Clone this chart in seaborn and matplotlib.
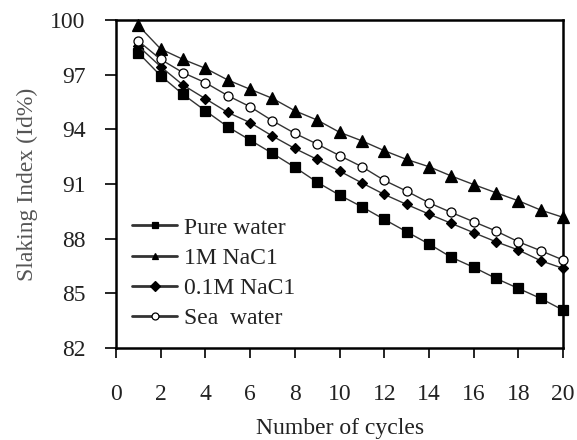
import numpy as np
import pandas as pd
import matplotlib
matplotlib.use("Agg")
import matplotlib.pyplot as plt
import seaborn as sns

# Slaking durability over repeated wetting/drying cycles
cycles = list(range(1, 21))
pure_water = [98.2, 96.94, 95.92, 95.02, 94.14, 93.41, 92.68, 91.92, 91.1, 90.39,
              89.75, 89.06, 88.38, 87.71, 86.98, 86.43, 85.82, 85.27, 84.72, 84.08]
nacl_1m = [99.7, 98.41, 97.84, 97.35, 96.71, 96.2, 95.7, 95.02, 94.51, 93.84,
           93.37, 92.83, 92.35, 91.95, 91.44, 90.97, 90.52, 90.08, 89.57, 89.17]
nacl_01m = [98.57, 97.44, 96.43, 95.68, 94.93, 94.37, 93.63, 92.95, 92.35, 91.71,
            91.06, 90.43, 89.88, 89.35, 88.84, 88.33, 87.83, 87.38, 86.79, 86.37]
sea_water = [98.85, 97.84, 97.11, 96.56, 95.85, 95.24, 94.47, 93.78, 93.19, 92.56,
             91.95, 91.2, 90.61, 89.97, 89.44, 88.93, 88.42, 87.83, 87.34, 86.83]

series_names = ["Pure water", "1M NaC1", "0.1M NaC1", "Sea  water"]
x_ticks = list(range(0, 21, 2))
y_ticks = [82, 85, 88, 91, 94, 97, 100]

df = pd.DataFrame({
    "cycle": cycles * 4,
    "index": pure_water + nacl_1m + nacl_01m + sea_water,
    "fluid": sum([[n] * len(cycles) for n in series_names], []),
})

sns.set_style("ticks")
plt.rcParams["font.family"] = ["Liberation Serif", "DejaVu Serif"]

fig = plt.figure(figsize=(5.77, 4.40), dpi=100)
ax = fig.add_axes([0.201, 0.209, 0.775, 0.7455])

styles = {
    "Pure water": dict(marker="s", markersize=7.5, markerfacecolor="black"),
    "1M NaC1": dict(marker="^", markersize=8.5, markerfacecolor="black"),
    "0.1M NaC1": dict(marker="D", markersize=5.5, markerfacecolor="black"),
    "Sea  water": dict(marker="o", markersize=6.5, markerfacecolor="white"),
}

for name in series_names:
    sub = df[df["fluid"] == name]
    sns.lineplot(data=sub, x="cycle", y="index", ax=ax, color="#333333",
                 linewidth=1.0, markeredgecolor="black", markeredgewidth=0.9,
                 label=name, clip_on=False, zorder=3, **styles[name])

ax.set_xlim(0, 20)
ax.set_ylim(82, 100)
ax.set_xticks(x_ticks)
ax.set_yticks(y_ticks)
ax.set_xticklabels([str(t) for t in x_ticks])
ax.set_yticklabels([str(t) for t in y_ticks])

for side in ["left", "right", "top", "bottom"]:
    ax.spines[side].set_visible(True)
    ax.spines[side].set_linewidth(1.8)
    ax.spines[side].set_color("black")

ax.tick_params(axis="x", direction="out", length=7, width=1.2, pad=19,
               labelsize=17, colors="black")
ax.tick_params(axis="y", direction="out", length=8, width=1.2, pad=14,
               labelsize=17, colors="black")
for lab in ax.get_xticklabels() + ax.get_yticklabels():
    lab.set_color("#222222")

ax.set_xlabel("Number of cycles", fontsize=17, color="#222222", labelpad=9)
ax.set_ylabel("Slaking Index (Id%)", fontsize=17, color="#555555", labelpad=9)

leg = ax.legend(loc="lower left", bbox_to_anchor=(0.015, 0.028), frameon=False,
                fontsize=17, handlelength=1.9, handletextpad=0.3,
                labelspacing=0.37, borderaxespad=0.0)
for line in leg.get_lines():
    line.set_linewidth(2.0)
    line.set_markersize(5)
for txt in leg.get_texts():
    txt.set_color("#222222")

fig.savefig("out.png", dpi=100)
